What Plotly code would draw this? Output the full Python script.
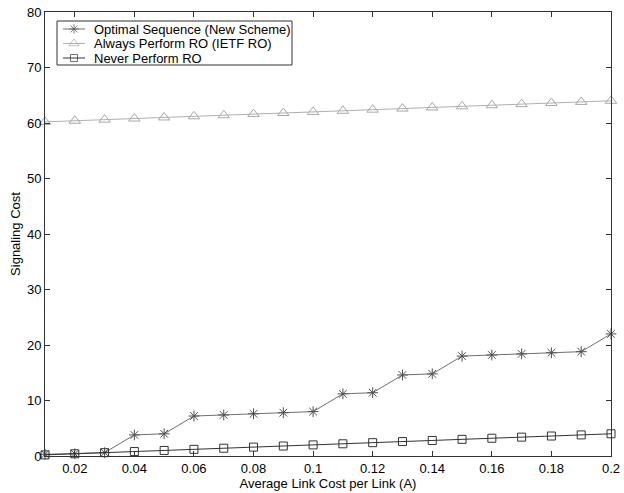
import plotly.graph_objects as go

x = [0.01, 0.02, 0.03, 0.04, 0.05, 0.06, 0.07, 0.08, 0.09, 0.10,
     0.11, 0.12, 0.13, 0.14, 0.15, 0.16, 0.17, 0.18, 0.19, 0.20]
optimal = [0.3, 0.4, 0.6, 3.8, 4.0, 7.2, 7.4, 7.6, 7.8, 8.0,
           11.2, 11.4, 14.6, 14.8, 18.0, 18.2, 18.4, 18.6, 18.8, 22.0]
always = [60.2, 60.4, 60.6, 60.8, 61.0, 61.2, 61.4, 61.6, 61.8, 62.0,
          62.2, 62.4, 62.6, 62.8, 63.0, 63.2, 63.4, 63.6, 63.8, 64.0]
never = [0.2, 0.4, 0.6, 0.8, 1.0, 1.2, 1.4, 1.6, 1.8, 2.0,
         2.2, 2.4, 2.6, 2.8, 3.0, 3.2, 3.4, 3.6, 3.8, 4.0]
xticks = [0.02, 0.04, 0.06, 0.08, 0.1, 0.12, 0.14, 0.16, 0.18, 0.2]
xticklabels = ["0.02", "0.04", "0.06", "0.08", "0.1", "0.12", "0.14", "0.16", "0.18", "0.2"]
series_names = ["Optimal Sequence (New Scheme)", "Always Perform RO (IETF RO)", "Never Perform RO"]

FONT = "Liberation Sans, Arial, Helvetica"
W, H = 624, 493
ML, MR, MT, MB = 45, 13, 12, 37
PW, PH = W - ML - MR, H - MT - MB

styles = [
    dict(line_color="#707070", marker_color="#505050", symbol="asterisk-open", size=9),
    dict(line_color="#b0b0b0", marker_color="#a8a8a8", symbol="triangle-up-open", size=10),
    dict(line_color="#333333", marker_color="#333333", symbol="square-open", size=8),
]
series = [optimal, always, never]

fig = go.Figure()
for vals, name, st in zip(series, series_names, styles):
    fig.add_trace(go.Scatter(x=x, y=vals, mode="lines+markers", name=name, showlegend=False,
                             cliponaxis=False,
                             line=dict(color=st["line_color"], width=1),
                             marker=dict(symbol=st["symbol"], size=st["size"], color=st["marker_color"],
                                         line=dict(width=1, color=st["marker_color"]))))

# manual legend (layout positions in pixels converted to paper fractions)
def px_x(p):
    return (p - ML) / PW

def px_y(p):
    return (H - MB - p) / PH

fig.add_shape(type="rect", xref="paper", yref="paper",
              x0=px_x(57), x1=px_x(292), y0=px_y(65), y1=px_y(21),
              line=dict(color="#333333", width=1), fillcolor="white", layer="below")
row_px = [29, 43.5, 58]
for i, (name, st) in enumerate(zip(series_names, styles)):
    yr = px_y(row_px[i])
    fig.add_trace(go.Scatter(x=[px_x(63), px_x(74), px_x(85)], y=[yr, yr, yr],
                             xaxis="x2", yaxis="y2", mode="lines+markers", showlegend=False,
                             hoverinfo="skip", cliponaxis=False,
                             line=dict(color=st["line_color"], width=1),
                             marker=dict(symbol=st["symbol"], size=[0, st["size"] - 1, 0],
                                         color=st["marker_color"],
                                         line=dict(width=1, color=st["marker_color"]))))
    fig.add_annotation(xref="paper", yref="paper", x=px_x(92), y=yr, text=name, showarrow=False,
                       xanchor="left", yanchor="middle",
                       font=dict(family=FONT, size=13, color="black"))

axis_common = dict(showgrid=False, zeroline=False, showline=True, linecolor="#333333", linewidth=1,
                   mirror="ticks", ticks="inside", ticklen=5, tickcolor="#333333", automargin=False,
                   tickfont=dict(family=FONT, size=13, color="black"))
fig.update_xaxes(range=[0.01, 0.2], tickvals=xticks, ticktext=xticklabels, ticklabeloverflow="allow",
                 title=dict(text="Average Link Cost per Link (A)", standoff=2,
                            font=dict(family=FONT, size=13, color="black")),
                 **axis_common)
fig.update_yaxes(range=[0, 80], dtick=10,
                 title=dict(text="Signaling Cost", standoff=3,
                            font=dict(family=FONT, size=13, color="black")),
                 **axis_common)
fig.update_layout(
    xaxis2=dict(overlaying="x", range=[0, 1], visible=False, fixedrange=True),
    yaxis2=dict(overlaying="y", range=[0, 1], visible=False, fixedrange=True),
    width=W, height=H, plot_bgcolor="white", paper_bgcolor="white",
    margin=dict(l=ML, r=MR, t=MT, b=MB),
    font=dict(family=FONT, size=13, color="black"),
    showlegend=False,
)
fig.write_html("out.html", config={"displayModeBar": False},
               post_script="document.body.style.margin='0';document.body.style.overflow='hidden';")
